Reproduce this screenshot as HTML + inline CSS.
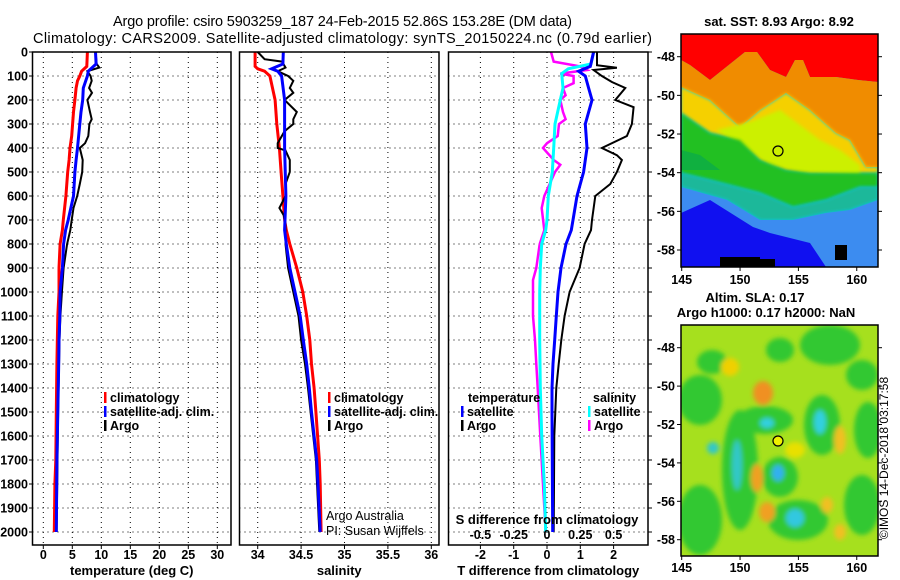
<!DOCTYPE html>
<html><head><meta charset="utf-8"><style>
body{margin:0;background:#fff;}
svg{display:block;font-family:"Liberation Sans",sans-serif;}
.tk{font-size:12.5px;font-weight:bold;fill:#000;}
.lb{font-size:13px;font-weight:bold;fill:#000;}
.ttl{font-size:14.5px;fill:#000;}
.grid{stroke:#000;stroke-width:1;stroke-dasharray:1,4;}
</style></head><body>
<svg id="chart" width="900" height="580" viewBox="0 0 900 580">
<defs>
<filter id="blur4" x="-20%" y="-20%" width="140%" height="140%"><feGaussianBlur stdDeviation="2.5"/></filter>
<filter id="blur2"><feGaussianBlur stdDeviation="1.5"/></filter>
<clipPath id="clip1"><rect x="681" y="34" width="197" height="233"/></clipPath>
<clipPath id="clip2"><rect x="681" y="325" width="197" height="231"/></clipPath>
</defs>
<rect width="900" height="580" fill="#fff"/>
<text class="ttl" x="113" y="26" textLength="459">Argo profile: csiro 5903259_187 24-Feb-2015 52.86S 153.28E (DM data)</text>
<text class="ttl" x="33" y="43" textLength="619">Climatology: CARS2009. Satellite-adjusted climatology: synTS_20150224.nc (0.79d earlier)</text>

<!-- SST map -->
<g clip-path="url(#clip1)">
<rect x="681" y="34" width="197" height="233" fill="#00c8f0"/>
<polygon fill="#ff0000" points="681,34 878,34 878,82 858,80 836,77 810,77 803,60 795,60 786,77 770,70 757,52 745,52 710,80 690,65 681,60"/>
<polygon fill="#f08c00" points="681,60 690,65 710,80 745,52 757,52 770,70 786,77 795,60 803,60 810,77 836,77 858,80 878,82 878,167 866,167 850,140 836,133 810,110 786,93 760,110 740,127 710,100 681,87"/>
<polygon fill="#f5d000" filter="url(#blur2)" points="681,87 710,100 740,127 760,110 786,93 810,110 836,133 850,140 866,167 878,167 878,173 836,173 810,173 786,170 760,160 740,140 710,133 681,113"/>
<polygon fill="#ccf000" filter="url(#blur2)" points="716,130 750,122 780,110 800,125 820,140 840,150 860,165 860,175 800,172 770,165 740,145"/>
<polygon fill="#20c020" filter="url(#blur2)" points="681,113 710,133 740,140 760,160 786,170 810,173 878,173 878,187 860,187 826,200 793,207 760,193 710,180 681,173"/>
<polygon fill="#10b040" points="681,150 700,155 720,170 681,170"/>
<polygon fill="#1fb89a" filter="url(#blur2)" points="681,173 710,180 760,193 793,207 826,200 860,187 878,187 878,200 850,210 826,213 793,220 760,220 727,200 681,187"/>
<polygon fill="#3c8cf0" points="681,187 727,200 760,220 793,220 826,213 850,210 878,200 878,267 681,267"/>
<polygon fill="#1010f0" points="681,213 710,200 753,227 770,233 810,243 826,267 681,267"/>
<rect x="720" y="257" width="40" height="10" fill="#000"/>
<rect x="745" y="259" width="30" height="8" fill="#000"/>
<rect x="835" y="245" width="12" height="15" fill="#000"/>
<circle cx="778" cy="151" r="5" fill="none" stroke="#000" stroke-width="1.2"/>
</g>
<rect x="681" y="34" width="197" height="233" fill="none" stroke="#000" stroke-width="1.5"/>
<text class="lb" x="779" y="26" text-anchor="middle">sat. SST: 8.93 Argo: 8.92</text>

<!-- SLA map -->
<g clip-path="url(#clip2)">
<rect x="681" y="325" width="197" height="231" fill="#a6e01e"/>
<g filter="url(#blur4)">
<ellipse cx="700" cy="400" rx="22" ry="25" fill="#30c830"/>
<ellipse cx="712" cy="362" rx="15" ry="12" fill="#30c830"/>
<ellipse cx="830" cy="345" rx="30" ry="20" fill="#30c830"/>
<ellipse cx="780" cy="350" rx="14" ry="12" fill="#30c830"/>
<ellipse cx="868" cy="430" rx="14" ry="28" fill="#30c830"/>
<ellipse cx="700" cy="520" rx="22" ry="35" fill="#30c830"/>
<ellipse cx="740" cy="470" rx="18" ry="60" fill="#30c830"/>
<ellipse cx="765" cy="420" rx="28" ry="14" fill="#30c830"/>
<ellipse cx="780" cy="477" rx="18" ry="20" fill="#30c830"/>
<ellipse cx="822" cy="425" rx="18" ry="30" fill="#30c830"/>
<ellipse cx="798" cy="520" rx="30" ry="20" fill="#30c830"/>
<ellipse cx="862" cy="505" rx="18" ry="30" fill="#30c830"/>
<ellipse cx="862" cy="375" rx="16" ry="15" fill="#30c830"/>
<ellipse cx="763" cy="393" rx="10" ry="12" fill="#f09020"/>
<ellipse cx="730" cy="367" rx="9" ry="9" fill="#f0d000"/>
<ellipse cx="757" cy="478" rx="6" ry="14" fill="#f0a020"/>
<ellipse cx="767" cy="512" rx="8" ry="10" fill="#f0a020"/>
<ellipse cx="840" cy="440" rx="6" ry="14" fill="#f0c020"/>
<ellipse cx="827" cy="505" rx="6" ry="8" fill="#f0c020"/>
<ellipse cx="840" cy="532" rx="6" ry="8" fill="#f0c020"/>
<ellipse cx="795" cy="450" rx="10" ry="8" fill="#e8e000"/>
<ellipse cx="767" cy="423" rx="7" ry="5" fill="#30d0e0"/>
<ellipse cx="737" cy="465" rx="5" ry="25" fill="#30c8c8"/>
<ellipse cx="713" cy="448" rx="6" ry="6" fill="#30c8c8"/>
<ellipse cx="778" cy="473" rx="6" ry="8" fill="#30b0f0"/>
<ellipse cx="820" cy="422" rx="6" ry="12" fill="#30d0e0"/>
<ellipse cx="795" cy="518" rx="9" ry="9" fill="#30c8e0"/>
</g>
<circle cx="778" cy="441" r="5" fill="#f0f000" stroke="#000" stroke-width="1.2"/>
</g>
<rect x="681" y="325" width="197" height="231" fill="none" stroke="#000" stroke-width="1.5"/>
<text class="lb" x="755" y="302" text-anchor="middle">Altim. SLA: 0.17</text>
<text class="lb" x="766" y="317" text-anchor="middle">Argo h1000: 0.17 h2000: NaN</text>
<text x="888" y="458" font-size="12" text-anchor="middle" transform="rotate(-90 888 458)">©IMOS 14-Dec-2018 03:17:58</text>
<g id="plots"></g>
</svg>
<script>
// ---- data ----
const depthTicks = [0,100,200,300,400,500,600,700,800,900,1000,1100,1200,1300,1400,1500,1600,1700,1800,1900,2000];
const tempTicks = [0,5,10,15,20,25,30];
const salTicks = [34,34.5,35,35.5,36];
const tdiffTicks = [-2,-1,0,1,2];
const sdiffTicks = [-0.5,-0.25,0,0.25,0.5];
const lonTicks = [145,150,155,160];
const latTicks = [-48,-50,-52,-54,-56,-58];

const tempClimD = [0,60,80,100,120,150,200,250,300,350,400,450,500,600,700,742,800,900,1000,1100,1300,1500,1700,1800,2000];
const tempClim = [7.6,7.5,6.6,6.3,5.9,5.65,5.45,5.2,5.05,4.9,4.6,4.45,4.2,3.9,3.45,3.3,2.9,2.7,2.7,2.5,2.35,2.25,2.15,2.0,1.9];
const tempSatD = [0,50,80,100,150,200,250,300,400,450,500,600,700,742,800,900,1000,1100,1200,1300,1500,1700,2000];
const tempSat = [9.0,9.1,7.75,7.6,6.9,6.8,6.5,6.3,5.9,5.65,5.45,5.2,4.3,3.85,3.5,3.3,2.9,2.85,2.7,2.65,2.5,2.35,2.25];
const tempArgoD = [0,50,65,80,100,120,150,170,200,250,280,300,350,380,400,450,500,550,600,650,700,742,800,900,1000,1100,1200,1500,2000];
const tempArgo = [9.0,9.2,9.65,7.6,8.15,8.35,7.9,8.4,7.6,8.05,8.35,7.95,7.75,7.2,6.3,6.8,6.7,6.3,5.85,5.2,4.9,4.65,4.1,3.5,3.2,2.95,2.8,2.55,2.3];

const salClimD = [0,60,70,80,100,200,300,400,500,600,700,742,800,900,1000,1100,1200,1300,1400,1500,1600,1700,1800,2000];
const salClim = [33.97,33.97,34.0,34.08,34.14,34.2,34.22,34.25,34.27,34.29,34.31,34.33,34.37,34.45,34.52,34.565,34.6,34.62,34.65,34.67,34.69,34.71,34.72,34.73];
const salSatD = [0,50,70,80,100,200,400,600,742,800,900,1000,1100,1200,1300,1400,1500,1600,1700,1800,2000];
const salSat = [34.295,34.29,34.16,34.23,34.275,34.31,34.31,34.325,34.31,34.33,34.37,34.43,34.49,34.525,34.565,34.595,34.62,34.65,34.68,34.695,34.72];
const salArgoD = [0,30,40,65,80,100,120,150,170,200,250,280,300,330,380,400,410,450,500,550,600,650,680,720,800,900,1000,1100,1200,1300,1400,1500,1700,2000];
const salArgo = [34.0,34.08,34.28,34.32,34.23,34.35,34.41,34.37,34.41,34.31,34.45,34.41,34.41,34.31,34.23,34.23,34.32,34.37,34.37,34.32,34.32,34.25,34.3,34.32,34.32,34.35,34.41,34.47,34.5,34.545,34.58,34.61,34.67,34.71];

const dTSatD = [0,60,80,100,150,200,300,400,500,600,700,742,800,900,1000,1100,1200,1300,1400,1500,2000];
const dTSat = [1.4,1.3,0.95,1.15,1.25,1.35,1.15,1.2,1.1,0.9,0.78,0.73,0.57,0.42,0.33,0.28,0.23,0.18,0.15,0.15,0.17];
const dTArgoD = [0,55,66,75,100,125,150,200,230,300,350,400,430,450,500,550,600,700,742,800,900,950,1000,1100,1200,1300,1400,1600,2000];
const dTArgo = [1.5,1.5,2.1,1.4,1.65,1.95,2.35,2.05,2.6,2.55,2.4,1.65,2.1,2.25,2.1,1.9,1.45,1.35,1.32,1.13,0.98,0.83,0.68,0.53,0.43,0.35,0.28,0.22,0.2];
const dSArgoD = [0,40,60,75,90,100,130,150,180,200,250,280,300,350,380,400,450,470,500,550,600,650,742,800,900,950,1100,1200,1300,1400,1600,1800,2000];
const dSArgo = [0.03,0.05,0.25,0.3,0.1,0.2,0.2,0.12,0.14,0.1,0.12,0.14,0.09,0.08,0.0,-0.03,0.05,0.1,0.06,0.02,-0.02,-0.04,-0.02,-0.055,-0.08,-0.105,-0.105,-0.09,-0.08,-0.07,-0.05,-0.03,-0.01];
const dSSatD = [0,50,70,90,150,200,300,400,500,600,700,742,800,900,1000,1200,1400,1600,1800,2000];
const dSSat = [0.35,0.33,0.16,0.11,0.12,0.1,0.06,0.05,0.04,0.01,0.0,-0.01,-0.04,-0.05,-0.055,-0.055,-0.05,-0.04,-0.02,-0.01];

// ---- scales ----
const fy = d => 52 + 0.24*d;
const fxT = v => 43.3 + 5.8*v;
const fxS = v => 257.7 + 86.8*(v-34);
const fxD = v => 547 + 33.3*v;
const fxDS = v => 547 + 133.2*v;
const fLon = v => 681.7 + (v-145)*11.67;
const fLat1 = v => 56.7 + (-48 - v)*19.33;
const fLat2 = v => 347.7 + (-48 - v)*19.2;

const NS = 'http://www.w3.org/2000/svg';
const root = document.getElementById('plots');
function mk(tag, attrs, parent){ const e=document.createElementNS(NS,tag); for(const k in attrs) e.setAttribute(k,attrs[k]); (parent||root).appendChild(e); return e; }
function txt(x,y,s,cls,anchor,parent){ const e=mk('text',{x:x,y:y,class:cls,'text-anchor':anchor||'middle'},parent); e.textContent=s; return e; }

const panels = [
  {name:'temperature-panel', x0:32.5, x1:231, fx:fxT, ticks:tempTicks, label:'temperature (deg C)'},
  {name:'salinity-panel', x0:239.5, x1:439, fx:fxS, ticks:salTicks, label:'salinity'},
  {name:'difference-panel', x0:448.5, x1:648, fx:fxD, ticks:tdiffTicks, label:'T difference from climatology'}
];
panels.forEach(p=>{
  const g = mk('g',{});
  
  
  depthTicks.forEach(d=>{ if(d>0) mk('line',{x1:p.x0,x2:p.x1,y1:fy(d),y2:fy(d),class:'grid'},g); });
  p.ticks.forEach(t=>{
    mk('line',{x1:p.fx(t),x2:p.fx(t),y1:52,y2:545,class:'grid'},g);
    mk('line',{x1:p.fx(t),x2:p.fx(t),y1:545,y2:549,stroke:'#000'},g);
    const e = txt(p.fx(t),559,String(t),'tk','middle',g);
    
    
  });
  const xl = txt((p.x0+p.x1)/2,575,p.label,'lb','middle',g);
  
  
  p.g = g;
});
// y tick labels
depthTicks.forEach(d=>{
  const e = txt(28,fy(d)+4.5,String(d),'tk','end');
  
  
  mk('line',{x1:29,x2:32.5,y1:fy(d),y2:fy(d),stroke:'#000'});
  mk('line',{x1:648,x2:652,y1:fy(d),y2:fy(d),stroke:'#000'});
});
function line(D,V,fx,color,w,name){
  const pts = D.map((d,i)=>fx(V[i]).toFixed(1)+','+fy(d).toFixed(1)).join(' ');
  const e = mk('polyline',{points:pts,fill:'none',stroke:color,'stroke-width':w,'stroke-linejoin':'miter'});
  
  
}
line(tempClimD,tempClim,fxT,'#ff0000',3,'temp-climatology-line');
line(tempArgoD,tempArgo,fxT,'#000',2,'temp-argo-line');
line(tempSatD,tempSat,fxT,'#0000ff',3,'temp-satellite-line');
line(salClimD,salClim,fxS,'#ff0000',3,'sal-climatology-line');
line(salArgoD,salArgo,fxS,'#000',2,'sal-argo-line');
line(salSatD,salSat,fxS,'#0000ff',3,'sal-satellite-line');
line(dSArgoD,dSArgo,fxDS,'#ff00ff',2.5,'sdiff-argo-line');
line(dSSatD,dSSat,fxDS,'#00ffff',3,'sdiff-satellite-line');
line(dTArgoD,dTArgo,fxD,'#000',2,'tdiff-argo-line');
line(dTSatD,dTSat,fxD,'#0000ff',3,'tdiff-satellite-line');
// frames
panels.forEach(p=>{ mk('rect',{x:p.x0,y:52,width:p.x1-p.x0,height:493,fill:'none',stroke:'#000','stroke-width':1.5}); });
// S difference axis labels inside panel 3
const st = txt(547,524,'S difference from climatology','lb','middle');


sdiffTicks.forEach(t=>{
  const e = txt(fxDS(t),539,String(t),'tk','middle');
  
  
});
// legends
function legend(x,y,color,label,name){
  mk('rect',{x:x,y:y-10,width:2.5,height:11,fill:color});
  const e = txt(x+6,y,label,'tk','start');
  
  
}
legend(104,402,'#ff0000','climatology','temp-legend-climatology');
legend(104,416,'#0000ff','satellite-adj. clim.','temp-legend-satellite');
legend(104,430,'#000','Argo','temp-legend-argo');
legend(328,402,'#ff0000','climatology','sal-legend-climatology');
legend(328,416,'#0000ff','satellite-adj. clim.','sal-legend-satellite');
legend(328,430,'#000','Argo','sal-legend-argo');
const lt = txt(468,402,'temperature','tk','start');  
legend(461,416,'#0000ff','satellite','tdiff-legend-satellite');
legend(461,430,'#000','Argo','tdiff-legend-argo');
const ls = txt(593,402,'salinity','tk','start');  
legend(588,416,'#00ffff','satellite','sdiff-legend-satellite');
legend(588,430,'#ff00ff','Argo','sdiff-legend-argo');
const a1 = txt(326,520,'Argo Australia','','start'); a1.setAttribute('font-size','12.5');  
const a2 = txt(326,535,'PI: Susan Wijffels','','start'); a2.setAttribute('font-size','12.5');  
// map ticks
[[fLat1,267,284],[fLat2,556,572]].forEach(([fl,bot,ly])=>{
  lonTicks.forEach(t=>{
    mk('line',{x1:fLon(t),x2:fLon(t),y1:bot,y2:bot+4,stroke:'#000'});
    const e = txt(fLon(t),ly,String(t),'tk','middle');
    
    
  });
  latTicks.forEach(t=>{
    mk('line',{x1:677,x2:681,y1:fl(t),y2:fl(t),stroke:'#000'});
    mk('line',{x1:878,x2:882,y1:fl(t),y2:fl(t),stroke:'#000'});
    const e = txt(675,fl(t)+4.5,String(t),'tk','end');
    
    
  });
});
</script>
</body></html>
